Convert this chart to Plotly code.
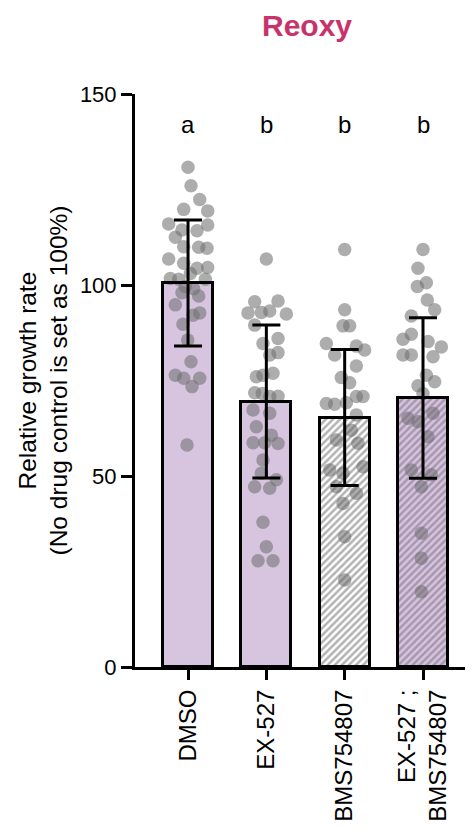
import plotly.graph_objects as go

categories = ["DMSO", "EX-527", "BMS754807", "EX-527 ;<br>BMS754807"]
letters = ["a", "b", "b", "b"]
means = [100.5, 69.5, 65.3, 70.4]
sds = [16.5, 20.0, 17.8, 21.0]

dmso_vals = [130.8, 126, 122.4, 119.8, 119.4, 116, 115.7, 114.4, 114.2, 112.5, 110, 109.6,
             109.9, 106.8, 105.7, 104.6, 104.4, 103, 101.7, 101.5, 101.5, 99.6, 99, 98,
             97.1, 94.8, 92.7, 92.1, 89.7, 85.6, 79.9, 76.4, 75.6, 75.6, 73.4, 58.1]
dmso_jit = [0, 0.038, 0.149, -0.055, 0.251, -0.247, 0.251, -0.077, 0.115, -0.162, -0.055, 0.243,
            0.136, -0.247, -0.055, 0.251, 0.115, 0.03, -0.226, -0.119, 0.221, -0.034, 0.072, -0.077,
            0.136, -0.162, 0.149, 0.064, -0.064, -0.004, 0.038, -0.162, -0.055, 0.149, 0.051, -0.013]

ex_vals = [106.8, 95.6, 95.8, 92.7, 93.2, 92.4, 92.8, 89.5, 84.7, 86, 81.7, 82.3, 76, 76.9,
           76.4, 71.8, 70.9, 70.8, 71.6, 67.3, 66.4, 62.9, 60.7, 58.7, 58.5, 58.7, 54.2, 50.7,
           49, 47.2, 46.8, 37.9, 31.5, 27.8, 27.8]
ex_jit = [0, -0.149, 0.149, -0.234, 0.043, 0.255, -0.064, -0.149, -0.043, 0.149, 0.043, 0.149,
          -0.128, 0.085, -0.043, -0.149, 0.149, 0.043, -0.051, -0.170, 0.043, -0.128, 0.064,
          -0.170, 0.149, -0.021, -0.043, -0.064, 0.128, -0.149, 0.043, -0.043, 0, -0.106, 0.085]

bms_vals = [109.3, 93.5, 89.3, 89.3, 84.7, 84, 83, 81.7, 78.8, 75.8, 74.4, 69, 68.8, 70.8,
            70.8, 69.2, 66, 62, 59.4, 58.6, 51.6, 52.4, 50.7, 47.2, 45.5, 42.8, 34.1, 22.8]
bms_jit = [0, 0, -0.021, 0.064, -0.234, 0.149, 0.255, -0.128, 0.149, -0.043, 0.064, -0.234,
           -0.128, 0.149, 0.234, 0.021, 0.149, 0.085, -0.106, 0.170, -0.191, 0.234, -0.021,
           -0.106, 0.149, -0.021, 0, 0]

combo_vals = [109.3, 104.4, 100.6, 99.6, 96.1, 93.5, 91.9, 85.8, 87.1, 85.2, 83.8, 81.7, 81.7,
              81.2, 76.4, 73.6, 74.7, 71.6, 65.1, 66.4, 64.2, 60.3, 51.6, 50.3, 47.2, 35, 28.5, 19.7]
combo_jit = [0, -0.064, 0.043, -0.072, 0.055, 0.149, -0.149, -0.255, -0.149, 0.064, 0.234,
             -0.255, -0.149, 0.128, 0.043, -0.064, 0.149, 0, -0.191, 0.128, -0.064, 0.064,
             -0.149, 0.106, -0.021, -0.021, -0.021, -0.021]

groups = [(dmso_vals, dmso_jit), (ex_vals, ex_jit), (bms_vals, bms_jit), (combo_vals, combo_jit)]

PURPLE = "#d7c4df"
FONT = "Liberation Sans, Arial, sans-serif"
idx = list(range(len(categories)))
XR = [-0.677, 3.60]

fig = go.Figure()

# base fills
fig.add_trace(go.Bar(x=idx, y=means, width=0.64,
                     marker=dict(color=[PURPLE, PURPLE, "white", PURPLE], line=dict(width=0)),
                     showlegend=False, hoverinfo="skip"))

# points
for i, (vals, jit) in enumerate(groups):
    fig.add_trace(go.Scatter(x=[i + j for j in jit], y=vals, mode="markers",
                             marker=dict(size=13.5, color="#727272", opacity=0.58, line=dict(width=0)),
                             showlegend=False, hoverinfo="skip"))

# overlay: hatch + outlines + error bars
fig.add_trace(go.Bar(x=idx, y=means, width=0.64, xaxis="x2", yaxis="y2",
                     marker=dict(color="rgba(0,0,0,0)",
                                 line=dict(color="black", width=3),
                                 pattern=dict(shape=["", "", "/", "/"],
                                              fgcolor=["#777777", "#777777", "#666666", "#76697e"],
                                              bgcolor="rgba(0,0,0,0)",
                                              fillmode="overlay", size=5, solidity=0.5)),
                     showlegend=False, hoverinfo="skip"))
fig.add_trace(go.Scatter(x=idx, y=means, mode="markers", xaxis="x2", yaxis="y2",
                         marker=dict(size=1, color="rgba(0,0,0,0)"),
                         error_y=dict(type="data", array=sds, visible=True,
                                      color="black", thickness=3, width=14),
                         showlegend=False, hoverinfo="skip"))

annotations = []
for i, l in enumerate(letters):
    annotations.append(dict(x=i, y=142, xref="x", yref="y", text=l, showarrow=False,
                            font=dict(size=24, color="black", family=FONT)))
annotations.append(dict(x=(307 - 135) / 335, y=1 + (94 - 25) / 573, xref="paper", yref="paper",
                        xanchor="center", yanchor="middle",
                        text="<b>Reoxy</b>", showarrow=False,
                        font=dict(size=30, color="#c8336b", family=FONT)))
annotations.append(dict(x=(43 - 135) / 335, y=0.5, xref="paper", yref="paper",
                        xanchor="center", yanchor="middle",
                        text="Relative growth rate<br>(No drug control is set as 100%)",
                        textangle=-90, showarrow=False,
                        font=dict(size=24.5, color="black", family=FONT)))

fig.update_layout(
    width=473, height=830,
    margin=dict(l=127, r=11, t=86, b=171, autoexpand=False),
    paper_bgcolor="white", plot_bgcolor="white",
    font=dict(family=FONT, color="black"),
    bargap=0,
    annotations=annotations,
    xaxis=dict(range=XR, tickmode="array", tickvals=idx, ticktext=categories,
               tickangle=-90, tickfont=dict(size=24), showline=True, linecolor="black",
               linewidth=3, ticks="outside", ticklen=10, tickwidth=3, tickcolor="black",
               showgrid=False, zeroline=False, fixedrange=True, automargin=False),
    yaxis=dict(range=[0, 150], tickmode="array", tickvals=[0, 50, 100, 150],
               tickfont=dict(size=22), showline=True, linecolor="black", linewidth=3,
               ticks="outside", ticklen=11, tickwidth=3, tickcolor="black",
               showgrid=False, zeroline=False, fixedrange=True, automargin=False),
    xaxis2=dict(range=XR, overlaying="x", anchor="y2", visible=False, fixedrange=True),
    yaxis2=dict(range=[0, 150], overlaying="y", anchor="x2", visible=False, fixedrange=True),
)

fig.write_html("out.html")
